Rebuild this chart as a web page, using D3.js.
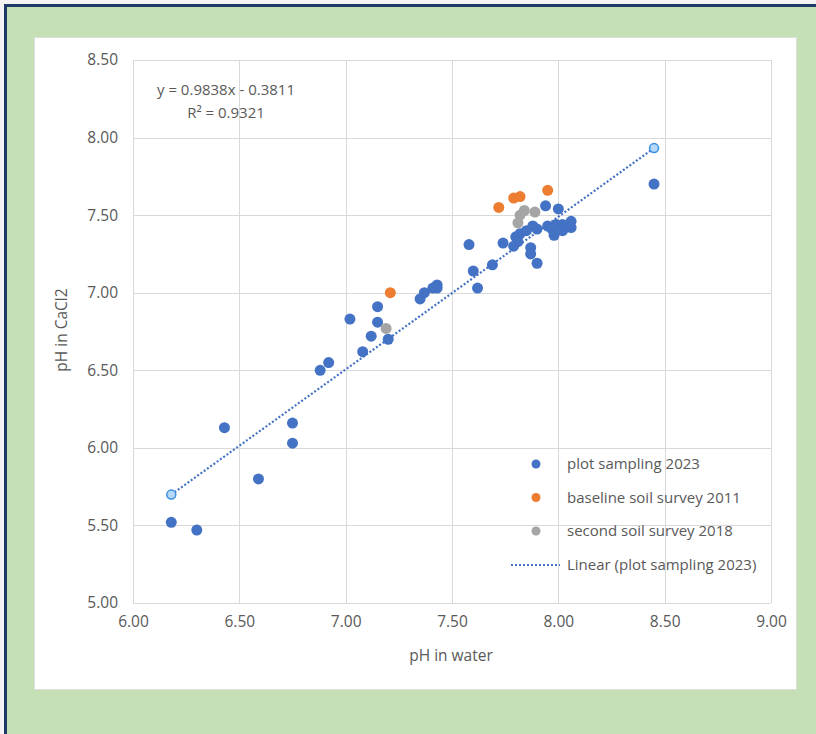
<!DOCTYPE html>
<html>
<head>
<meta charset="utf-8">
<script src="https://d3js.org/d3.v7.min.js"></script>
<style>
  body { margin: 0; background: #f4f4f4; }
  svg { display: block; font-family: "Open Sans", sans-serif; }
  .grid line { stroke: #d9d9d9; stroke-width: 1; }
  .tick text { fill: #595959; font-size: 15.5px; }
  .title { fill: #595959; font-size: 15.5px; }
  .legend text { fill: #595959; font-size: 15px; }
</style>
</head>
<body>
<div id="chart"></div>
<script>
  // pH readings, water vs CaCl2
  var plot2023Water = [6.18, 6.30, 6.43, 6.59, 6.75, 6.75, 6.88, 6.92, 7.02, 7.08, 7.12, 7.15, 7.15, 7.20,
    7.35, 7.37, 7.41, 7.43, 7.43, 7.58, 7.60, 7.62, 7.69, 7.74, 7.79, 7.80, 7.81, 7.82, 7.85, 7.88,
    7.87, 7.87, 7.90, 7.94, 8.00, 7.95, 7.97, 7.98, 7.99, 8.02, 8.02, 8.06, 8.06, 7.90, 8.45];
  var plot2023CaCl2 = [5.52, 5.47, 6.13, 5.80, 6.16, 6.03, 6.50, 6.55, 6.83, 6.62, 6.72, 6.91, 6.81, 6.70,
    6.96, 7.00, 7.03, 7.05, 7.03, 7.31, 7.14, 7.03, 7.18, 7.32, 7.30, 7.36, 7.33, 7.38, 7.40, 7.43,
    7.29, 7.25, 7.19, 7.56, 7.54, 7.43, 7.41, 7.37, 7.44, 7.44, 7.40, 7.46, 7.42, 7.41, 7.70];

  var baseline2011Water = [7.21, 7.72, 7.79, 7.82, 7.95];
  var baseline2011CaCl2 = [7.00, 7.55, 7.61, 7.62, 7.66];

  var second2018Water = [7.19, 7.81, 7.82, 7.84, 7.89];
  var second2018CaCl2 = [6.77, 7.45, 7.50, 7.53, 7.52];

  var trendSlope = 0.9838;
  var trendIntercept = -0.3811;
  var trendR2 = 0.9321;

  var xTicks = [6.00, 6.50, 7.00, 7.50, 8.00, 8.50, 9.00];
  var yTicks = [5.00, 5.50, 6.00, 6.50, 7.00, 7.50, 8.00, 8.50];

  var seriesNames = ["plot sampling 2023", "baseline soil survey 2011", "second soil survey 2018"];
  var seriesColors = ["#4472c4", "#ed7d31", "#a5a5a5"];

  var width = 816, height = 734;
  var margin = { top: 60, right: 45, bottom: 131, left: 133 };

  var svg = d3.select("#chart").append("svg")
    .attr("width", width)
    .attr("height", height);

  // green frame with dark edge
  svg.append("rect")
    .attr("x", 5.5).attr("y", 5.5)
    .attr("width", width + 20).attr("height", height + 20)
    .attr("fill", "#c5e0b4")
    .attr("stroke", "#1f3864")
    .attr("stroke-width", 3);

  // white chart area
  svg.append("rect")
    .attr("x", 34.5).attr("y", 37.5)
    .attr("width", 762).attr("height", 652)
    .attr("fill", "#fff")
    .attr("stroke", "#dedede");

  var x = d3.scaleLinear().domain([6, 9]).range([margin.left, width - margin.right]);
  var y = d3.scaleLinear().domain([5, 8.5]).range([height - margin.bottom, margin.top]);

  var g = svg.append("g");

  // gridlines
  g.append("g").attr("class", "grid")
    .selectAll("line").data(xTicks).enter().append("line")
    .attr("x1", function(d) { return Math.round(x(d)) + 0.5; })
    .attr("x2", function(d) { return Math.round(x(d)) + 0.5; })
    .attr("y1", y(5)).attr("y2", y(8.5));

  g.append("g").attr("class", "grid")
    .selectAll("line").data(yTicks).enter().append("line")
    .attr("y1", function(d) { return Math.round(y(d)) + 0.5; })
    .attr("y2", function(d) { return Math.round(y(d)) + 0.5; })
    .attr("x1", x(6)).attr("x2", x(9));

  // axes (labels only)
  var xAxis = d3.axisBottom(x).tickValues(xTicks).tickFormat(d3.format(".2f")).tickSize(0).tickPadding(13);
  var yAxis = d3.axisLeft(y).tickValues(yTicks).tickFormat(d3.format(".2f")).tickSize(0).tickPadding(15);

  g.append("g")
    .attr("transform", "translate(0," + y(5) + ")")
    .call(xAxis)
    .call(function(s) { s.select(".domain").remove(); });

  g.append("g")
    .attr("transform", "translate(" + x(6) + ",0)")
    .call(yAxis)
    .call(function(s) { s.select(".domain").remove(); });

  g.selectAll(".tick text").attr("font-family", "Open Sans, sans-serif");

  // axis titles
  svg.append("text").attr("class", "title")
    .attr("x", 451).attr("y", 661)
    .attr("text-anchor", "middle")
    .text("pH in water");

  svg.append("text").attr("class", "title")
    .attr("transform", "translate(67," + 330 + ") rotate(-90)")
    .attr("text-anchor", "middle")
    .text("pH in CaCl2");

  // points
  function drawSeries(xs, ys, color) {
    g.append("g").selectAll("circle")
      .data(xs).enter().append("circle")
      .attr("cx", function(d) { return x(d); })
      .attr("cy", function(d, i) { return y(ys[i]); })
      .attr("r", 5.5)
      .attr("fill", color);
  }
  drawSeries(plot2023Water, plot2023CaCl2, seriesColors[0]);
  drawSeries(baseline2011Water, baseline2011CaCl2, seriesColors[1]);
  drawSeries(second2018Water, second2018CaCl2, seriesColors[2]);

  // linear trendline over the 2023 x range
  var xExt = d3.extent(plot2023Water);
  var trend = xExt.map(function(v) { return [v, trendSlope * v + trendIntercept]; });

  g.append("path")
    .datum(trend)
    .attr("d", d3.line().x(function(d) { return x(d[0]); }).y(function(d) { return y(d[1]); }))
    .attr("fill", "none")
    .attr("stroke", "#4472c4")
    .attr("stroke-width", 2.2)
    .attr("stroke-dasharray", "2,2");

  g.append("g").selectAll("circle")
    .data(trend).enter().append("circle")
    .attr("cx", function(d) { return x(d[0]); })
    .attr("cy", function(d) { return y(d[1]); })
    .attr("r", 4.5)
    .attr("fill", "#b4d8f5")
    .attr("stroke", "#3b8fe0")
    .attr("stroke-width", 1.5);

  // equation label
  var eq = svg.append("text").attr("class", "title").attr("text-anchor", "middle").style("font-size", "15px");
  eq.append("tspan").attr("x", 226).attr("y", 95).text("y = " + trendSlope + "x - " + Math.abs(trendIntercept));
  eq.append("tspan").attr("x", 226).attr("y", 118).text("R\u00b2 = " + trendR2);

  // legend
  var legend = svg.append("g").attr("class", "legend");
  seriesNames.forEach(function(name, i) {
    var ly = 464 + i * 33.5;
    legend.append("circle").attr("cx", 536).attr("cy", ly).attr("r", 4.5).attr("fill", seriesColors[i]);
    legend.append("text").attr("x", 567).attr("y", ly).attr("dy", "0.35em").text(name);
  });
  legend.append("line")
    .attr("x1", 511).attr("x2", 560).attr("y1", 565).attr("y2", 565)
    .attr("stroke", "#4472c4").attr("stroke-width", 2.2).attr("stroke-dasharray", "2,2");
  legend.append("text").attr("x", 567).attr("y", 565).attr("dy", "0.35em").text("Linear (plot sampling 2023)");
</script>
</body>
</html>
